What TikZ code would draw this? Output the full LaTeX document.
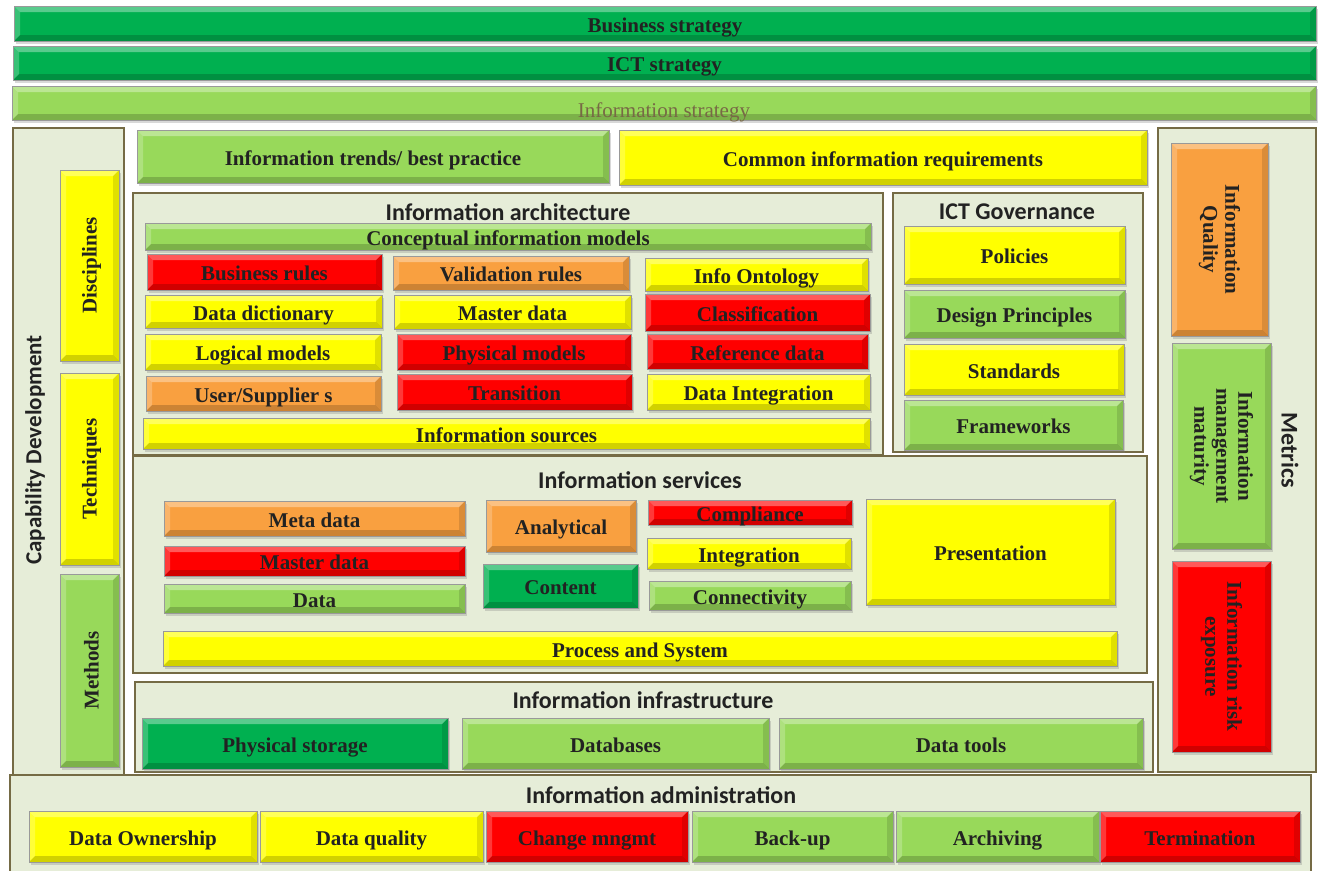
\documentclass[tikz,border=0pt]{standalone}
\usepackage{fontspec}
\setmainfont{Liberation Serif}
\newfontfamily\hdfont{Carlito}
\usetikzlibrary{shadows}

\definecolor{dgreen}{HTML}{00B050}
\definecolor{lgreen}{HTML}{98D95A}
\definecolor{yel}{HTML}{FFFF00}
\definecolor{rd}{HTML}{FF0000}
\definecolor{org}{HTML}{F9A040}
\definecolor{panelbg}{HTML}{E6EDD8}
\definecolor{panelrule}{HTML}{756B45}
\definecolor{ink}{HTML}{222222}
\definecolor{stratink}{HTML}{776945}

\tikzset{
  bevel/.style={path picture={
    \fill[white,opacity=.35] (path picture bounding box.north west) -- (path picture bounding box.north east)
      -- ([shift={(-6pt,-6pt)}]path picture bounding box.north east) -- ([shift={(6pt,-6pt)}]path picture bounding box.north west) -- cycle;
    \fill[white,opacity=.22] (path picture bounding box.north west) -- ([shift={(6pt,-6pt)}]path picture bounding box.north west)
      -- ([shift={(6pt,6pt)}]path picture bounding box.south west) -- (path picture bounding box.south west) -- cycle;
    \fill[black,opacity=.18] (path picture bounding box.south west) -- (path picture bounding box.south east)
      -- ([shift={(-6pt,6pt)}]path picture bounding box.south east) -- ([shift={(6pt,6pt)}]path picture bounding box.south west) -- cycle;
    \fill[black,opacity=.12] (path picture bounding box.north east) -- ([shift={(-6pt,-6pt)}]path picture bounding box.north east)
      -- ([shift={(-6pt,6pt)}]path picture bounding box.south east) -- (path picture bounding box.south east) -- cycle;
  }},
  tile/.style={bevel, inner sep=0pt, draw=black!40, line width=0.6pt,
    drop shadow={opacity=.3, shadow xshift=2pt, shadow yshift=-3pt},
    font=\fontsize{21}{23}\selectfont\bfseries, text=ink,
    text height=17pt, text depth=0pt},
  vtext/.style={inner sep=0pt, font=\fontsize{21}{22}\selectfont\bfseries, text=ink, align=center},
  panelbox/.style={draw=panelrule, line width=1.6pt, fill=panelbg, inner sep=0pt},
  hd/.style={inner sep=0pt, font=\hdfont\fontsize{24}{26}\selectfont\bfseries, text=ink},
}

% tile: name, x1, y1, x2, y2, colour, text
\newcommand\tile[7]{%
  \node[tile,fill=#6,minimum width={(#4)-(#2)},minimum height={(#5)-(#3)}]
    (#1) at ({((#2)+(#4))/2},{((#3)+(#5))/2}) {#7};}
% panel: name, x1, y1, x2, y2
\newcommand\panel[5]{%
  \node[panelbox,minimum width={(#4)-(#2)},minimum height={(#5)-(#3)}]
    (#1) at ({((#2)+(#4))/2},{((#3)+(#5))/2}) {};}

\begin{document}
\begin{tikzpicture}[x=1pt,y=-1pt]
\fill[white] (0,0) rectangle (1319,870);
\useasboundingbox (0,0) rectangle (1319,870);

% strategy bars
\tile{bs}{14}{6}{1316}{41}{dgreen}{Business strategy}
\tile{ict}{13}{46}{1316}{80}{dgreen}{ICT strategy}
\tile{is}{12}{86}{1316}{120}{lgreen}{}
\node[inner sep=0pt,font=\fontsize{21}{23}\selectfont,text=stratink] (is-t) at ([yshift=-9pt]is.center) {Information strategy};

% surrounding panels
\panel{cap}{13}{128}{124}{775}
\panel{met}{1158}{128}{1316}{772}
\panel{arch}{133}{193}{883}{455}
\panel{gov}{893}{193}{1143}{452}
\panel{svc}{133}{456}{1147}{673}
\panel{infra}{135}{682}{1153}{772}
\panel{adm}{10}{775}{1311}{875}

% capability development
\node[hd,font=\hdfont\fontsize{23}{25}\selectfont\bfseries,rotate=90] (cap-t) at (35,450) {Capability Development};
\tile{disc}{60}{170}{119}{361}{yel}{}
\tile{tech}{60}{373}{119}{565}{yel}{}
\tile{meth}{60}{574}{119}{767}{lgreen}{}
\node[vtext,rotate=90] (disc-t) at ([xshift=2pt]disc.center) {Disciplines};
\node[vtext,rotate=90] (tech-t) at ([xshift=2pt]tech.center) {Techniques};
\node[vtext,rotate=90] (meth-t) at ([xshift=2pt]meth.center) {Methods};

% trends and requirements
\tile{trend}{137}{130}{609}{183}{lgreen}{Information trends/ best practice}
\tile{req}{619}{130}{1147}{185}{yel}{Common information requirements}

% information architecture
\node[hd] (arch-t) at (508,212) {Information architecture};
\tile{cim}{145}{223}{871}{250}{lgreen}{Conceptual information models}
\tile{br}{147}{254}{382}{290}{rd}{Business rules}
\tile{vr}{393}{256}{629}{290}{org}{Validation rules}
\tile{io}{645}{258}{868}{291}{yel}{Info Ontology}
\tile{dd}{145}{295}{382}{328}{yel}{Data dictionary}
\tile{md}{394}{295}{631}{329}{yel}{Master data}
\tile{cl}{645}{294}{870}{331}{rd}{Classification}
\tile{lm}{145}{334}{381}{370}{yel}{Logical models}
\tile{pm}{397}{334}{631}{370}{rd}{Physical models}
\tile{rf}{647}{334}{868}{369}{rd}{Reference data}
\tile{us}{146}{376}{381}{411}{org}{User/Supplier s}
\tile{tr}{397}{374}{632}{410}{rd}{Transition}
\tile{di}{647}{374}{870}{410}{yel}{Data Integration}
\tile{src}{143}{418}{870}{449}{yel}{Information sources}

% ICT governance
\node[hd] (gov-t) at (1017,212) {ICT Governance};
\tile{pol}{904}{226}{1125}{284}{yel}{Policies}
\tile{dp}{904}{290}{1125}{338}{lgreen}{Design Principles}
\tile{std}{904}{344}{1124}{395}{yel}{Standards}
\tile{fw}{904}{400}{1123}{450}{lgreen}{Frameworks}

% information services
\node[hd] (svc-t) at (640,480) {Information services};
\tile{meta}{164}{501}{465}{536}{org}{Meta data}
\tile{mas}{164}{546}{465}{576}{rd}{Master data}
\tile{data}{164}{584}{465}{613}{lgreen}{Data}
\tile{ana}{486}{500}{636}{552}{org}{Analytical}
\tile{con}{483}{564}{638}{608}{dgreen}{Content}
\tile{cmp}{648}{500}{852}{525}{rd}{Compliance}
\tile{int}{647}{538}{851}{569}{yel}{Integration}
\tile{cnn}{649}{581}{851}{610}{lgreen}{Connectivity}
\tile{pre}{866}{499}{1115}{605}{yel}{Presentation}
\tile{ps}{163}{631}{1117}{666}{yel}{Process and System}

% information infrastructure
\node[hd] (infra-t) at (643,700) {Information infrastructure};
\tile{phs}{142}{718}{448}{769}{dgreen}{Physical storage}
\tile{dbs}{462}{718}{769}{769}{lgreen}{Databases}
\tile{dtl}{779}{718}{1143}{769}{lgreen}{Data tools}

% metrics
\node[hd,rotate=-90] (met-t) at (1290,450) {Metrics};
\tile{iq}{1171}{143}{1268}{336}{org}{}
\tile{imm}{1172}{343}{1271}{549}{lgreen}{}
\tile{ire}{1172}{561}{1271}{752}{rd}{}
\node[vtext,rotate=-90] (iq-t) at (iq) {Information\\Quality};
\node[vtext,rotate=-90] (imm-t) at (imm) {Information\\management\\maturity};
\node[vtext,rotate=-90] (ire-t) at (ire) {Information risk\\exposure};

% information administration
\node[hd] (adm-t) at (661,795) {Information administration};
\tile{own}{29}{811}{257}{862}{yel}{Data Ownership}
\tile{dq}{260}{811}{483}{862}{yel}{Data quality}
\tile{chg}{486}{811}{688}{862}{rd}{Change mngmt}
\tile{bak}{692}{811}{893}{862}{lgreen}{Back-up}
\tile{arc}{896}{811}{1099}{862}{lgreen}{Archiving}
\tile{trm}{1100}{811}{1300}{862}{rd}{Termination}
\end{tikzpicture}
\end{document}
